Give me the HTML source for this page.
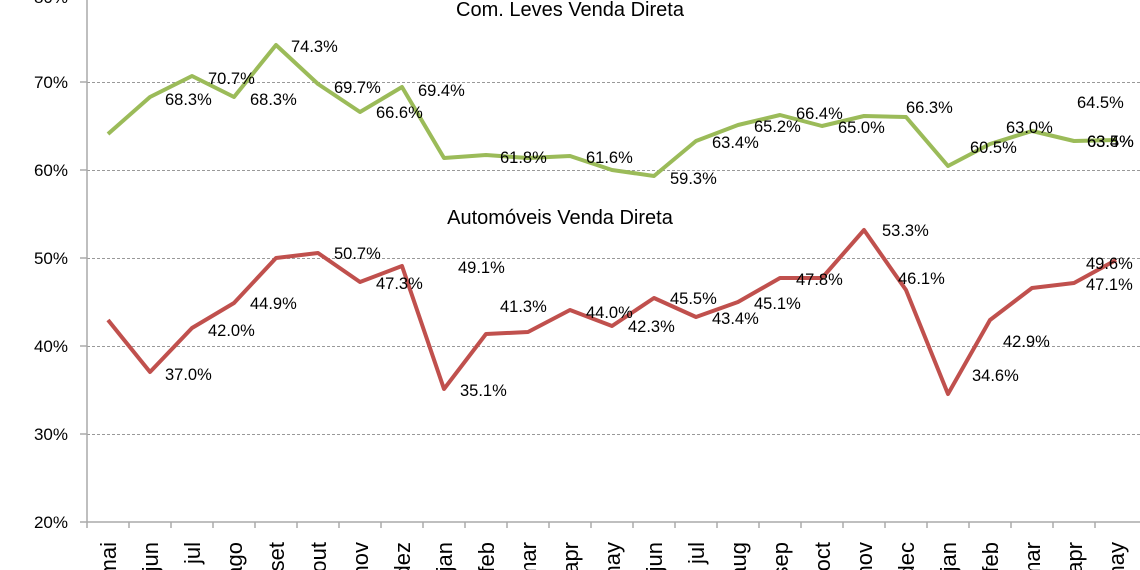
<!DOCTYPE html>
<html><head><meta charset="utf-8"><style>
html,body{margin:0;padding:0;background:#fff;width:1140px;height:570px;overflow:hidden}
svg{display:block;font-family:"Liberation Sans",sans-serif}
</style></head><body>
<svg width="1140" height="570" viewBox="0 0 1140 570">
<g stroke="#999" stroke-width="1" stroke-dasharray="3,2">
<line x1="87" x2="1140" y1="82.5" y2="82.5"/>
<line x1="87" x2="1140" y1="170.5" y2="170.5"/>
<line x1="87" x2="1140" y1="258.5" y2="258.5"/>
<line x1="87" x2="1140" y1="346.5" y2="346.5"/>
<line x1="87" x2="1140" y1="434.5" y2="434.5"/>
</g>
<g stroke="#aaa" stroke-width="1.5">
<line x1="87" x2="87" y1="0" y2="528"/>
<line x1="80" x2="1140" y1="522" y2="522"/>
<line x1="80" x2="87" y1="82" y2="82"/><line x1="80" x2="87" y1="170" y2="170"/><line x1="80" x2="87" y1="258" y2="258"/><line x1="80" x2="87" y1="346" y2="346"/><line x1="80" x2="87" y1="434" y2="434"/>
<line x1="129" x2="129" y1="522" y2="528"/><line x1="171" x2="171" y1="522" y2="528"/><line x1="213" x2="213" y1="522" y2="528"/><line x1="255" x2="255" y1="522" y2="528"/><line x1="297" x2="297" y1="522" y2="528"/><line x1="339" x2="339" y1="522" y2="528"/><line x1="381" x2="381" y1="522" y2="528"/><line x1="423" x2="423" y1="522" y2="528"/><line x1="465" x2="465" y1="522" y2="528"/><line x1="507" x2="507" y1="522" y2="528"/><line x1="549" x2="549" y1="522" y2="528"/><line x1="591" x2="591" y1="522" y2="528"/><line x1="633" x2="633" y1="522" y2="528"/><line x1="675" x2="675" y1="522" y2="528"/><line x1="717" x2="717" y1="522" y2="528"/><line x1="759" x2="759" y1="522" y2="528"/><line x1="801" x2="801" y1="522" y2="528"/><line x1="843" x2="843" y1="522" y2="528"/><line x1="885" x2="885" y1="522" y2="528"/><line x1="927" x2="927" y1="522" y2="528"/><line x1="969" x2="969" y1="522" y2="528"/><line x1="1011" x2="1011" y1="522" y2="528"/><line x1="1053" x2="1053" y1="522" y2="528"/><line x1="1095" x2="1095" y1="522" y2="528"/>
</g>
<g font-size="17" fill="#000" text-anchor="end">
<text x="68" y="3">80%</text><text x="68" y="88">70%</text><text x="68" y="176">60%</text><text x="68" y="264">50%</text><text x="68" y="352">40%</text><text x="68" y="440">30%</text><text x="68" y="528">20%</text>
</g>
<g font-size="22" fill="#000" text-anchor="end">
<text transform="translate(116,542) rotate(-90)">mai</text>
<text transform="translate(158,542) rotate(-90)">jun</text>
<text transform="translate(200,542) rotate(-90)">jul</text>
<text transform="translate(242,542) rotate(-90)">ago</text>
<text transform="translate(284,542) rotate(-90)">set</text>
<text transform="translate(326,542) rotate(-90)">out</text>
<text transform="translate(368,542) rotate(-90)">nov</text>
<text transform="translate(410,542) rotate(-90)">dez</text>
<text transform="translate(452,542) rotate(-90)">jan</text>
<text transform="translate(494,542) rotate(-90)">feb</text>
<text transform="translate(536,542) rotate(-90)">mar</text>
<text transform="translate(578,542) rotate(-90)">apr</text>
<text transform="translate(620,542) rotate(-90)">may</text>
<text transform="translate(662,542) rotate(-90)">jun</text>
<text transform="translate(704,542) rotate(-90)">jul</text>
<text transform="translate(746,542) rotate(-90)">aug</text>
<text transform="translate(788,542) rotate(-90)">sep</text>
<text transform="translate(830,542) rotate(-90)">oct</text>
<text transform="translate(872,542) rotate(-90)">nov</text>
<text transform="translate(914,542) rotate(-90)">dec</text>
<text transform="translate(956,542) rotate(-90)">jan</text>
<text transform="translate(998,542) rotate(-90)">feb</text>
<text transform="translate(1040,542) rotate(-90)">mar</text>
<text transform="translate(1082,542) rotate(-90)">apr</text>
<text transform="translate(1124,542) rotate(-90)">may</text>
</g>
<polyline fill="none" stroke="#9bbb59" stroke-width="4" stroke-linejoin="round" points="108,134 150,97 192,76 234,97 276,45 318,84 360,112 402,87 444,158 486,155 528,158 570,156 612,170 654,176 696,141 738,125 780,115 822,126 864,116 906,117 948,166 990,144 1032,131 1074,141 1116,140"/>
<polyline fill="none" stroke="#c0504d" stroke-width="4" stroke-linejoin="round" points="108,320 150,372 192,328 234,303 276,258 318,253 360,282 402,266 444,389 486,334 528,332 570,310 612,326 654,298 696,317 738,302 780,278 822,278 864,230 906,290 948,394 990,320 1032,288 1074,283 1116,260"/>
<text x="570" y="16" font-size="20" text-anchor="middle">Com. Leves Venda Direta</text>
<text x="560" y="224" font-size="20" text-anchor="middle">Automóveis Venda Direta</text>
<g font-size="16.5" fill="#000">
<text x="165" y="105">68.3%</text><text x="208" y="84">70.7%</text><text x="250" y="105">68.3%</text><text x="291" y="52">74.3%</text><text x="334" y="93">69.7%</text><text x="376" y="118">66.6%</text><text x="418" y="96">69.4%</text><text x="500" y="163">61.8%</text><text x="586" y="163">61.6%</text><text x="670" y="184">59.3%</text><text x="712" y="148">63.4%</text><text x="754" y="132">65.2%</text><text x="796" y="119">66.4%</text><text x="838" y="133">65.0%</text><text x="906" y="113">66.3%</text><text x="970" y="153">60.5%</text><text x="1006" y="133">63.0%</text><text x="1077" y="108">64.5%</text><text x="1087" y="147">63.4%</text><text x="1087" y="147">63.5%</text>
<text x="165" y="380">37.0%</text><text x="208" y="336">42.0%</text><text x="250" y="309">44.9%</text><text x="334" y="259">50.7%</text><text x="376" y="289">47.3%</text><text x="458" y="273">49.1%</text><text x="460" y="396">35.1%</text><text x="500" y="312">41.3%</text><text x="586" y="318">44.0%</text><text x="628" y="332">42.3%</text><text x="670" y="304">45.5%</text><text x="712" y="324">43.4%</text><text x="754" y="309">45.1%</text><text x="796" y="285">47.8%</text><text x="882" y="236">53.3%</text><text x="898" y="284">46.1%</text><text x="972" y="381">34.6%</text><text x="1003" y="347">42.9%</text><text x="1086" y="269">49.6%</text><text x="1086" y="290">47.1%</text>
</g>
</svg>
</body></html>
